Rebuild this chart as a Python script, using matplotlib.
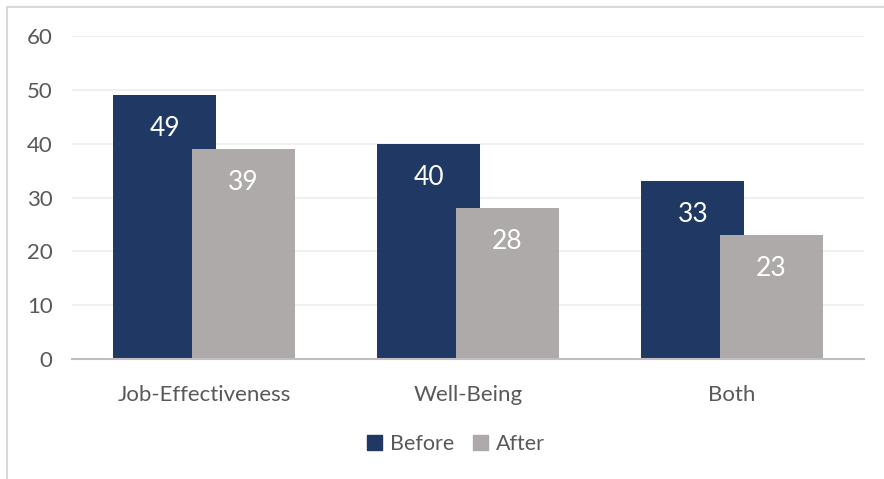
import matplotlib
matplotlib.use("Agg")
import matplotlib.pyplot as plt
from matplotlib.patches import Rectangle, Patch
import numpy as np

categories = ["Job-Effectiveness", "Well-Being", "Both"]
before = [49, 40, 33]
after = [39, 28, 23]
yticks = [0, 10, 20, 30, 40, 50, 60]

plt.rcParams['font.family'] = ['Lato', 'DejaVu Sans']

W, H = 884, 479
fig = plt.figure(figsize=(W / 100, H / 100), dpi=100)

# outer chart frame
fig.add_artist(Rectangle((7 / W, -0.1), 1.1, (H - 7) / H + 0.1, transform=fig.transFigure,
                         fill=False, edgecolor="#d9d9d9", linewidth=1.5))

ax = fig.add_axes([72 / W, 1 - 359 / H, (864 - 72) / W, (359 - 36) / H])
x = np.arange(len(categories))
bw = 0.39
off = 0.148
c_before = "#203864"
c_after = "#aeaaaa"

bb = ax.bar(x - off, before, bw, color=c_before, zorder=2)
ba = ax.bar(x + off, after, bw, color=c_after, zorder=3)

for bars, vals in ((bb, before), (ba, after)):
    for r, v in zip(bars, vals):
        ax.text(r.get_x() + r.get_width() / 2, v - 6.2, str(v), ha="center", va="center",
                color="white", fontsize=19, zorder=5)

ax.set_xlim(-0.5, len(categories) - 0.5)
ax.set_ylim(0, 60)
ax.set_yticks(yticks)
ax.set_xticks(x)
ax.set_xticklabels(categories)
ax.tick_params(axis="both", length=0, labelsize=16, colors="#595959")
ax.tick_params(axis="y", pad=14)
ax.tick_params(axis="x", pad=19)
ax.grid(axis="y", color="#eeeeee", linewidth=1.2, zorder=0)
ax.set_axisbelow(True)
for s in ("top", "right", "left"):
    ax.spines[s].set_visible(False)
ax.spines["bottom"].set_color("#bfbfbf")
ax.spines["bottom"].set_linewidth(1.5)
ax.spines["bottom"].set_zorder(4)

handles = [Patch(color=c_before, label="Before"), Patch(color=c_after, label="After")]
fig.legend(handles=handles, loc="center", bbox_to_anchor=(456 / W, 1 - 444 / H), ncol=2,
           frameon=False, fontsize=15.5, labelcolor="#595959", handlelength=0.7, handleheight=0.7,
           handletextpad=0.35, columnspacing=0.9)

fig.savefig("out.png", dpi=100)
